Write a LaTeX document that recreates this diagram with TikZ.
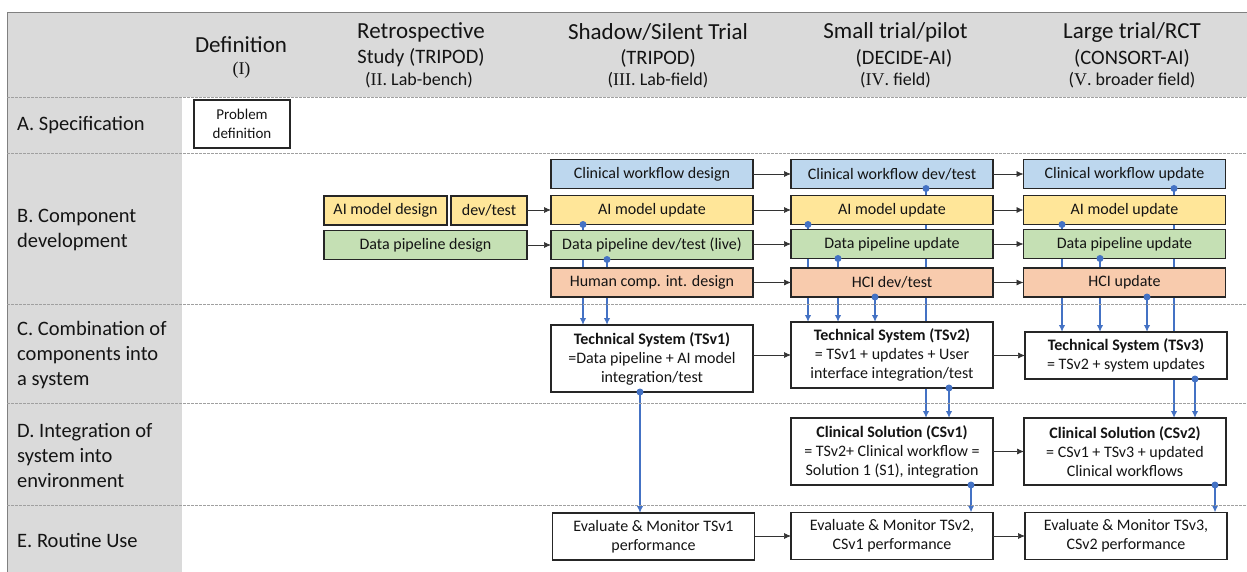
\documentclass[tikz,border=0pt]{standalone}
\usepackage{fontspec}
\setmainfont{Carlito}
\newfontfamily\numfont{Liberation Serif}
\usetikzlibrary{arrows.meta}
\pgfdeclarelayer{background}
\pgfsetlayers{background,main}

\definecolor{cwblue}{RGB}{189,215,238}
\definecolor{aiyel}{RGB}{255,230,153}
\definecolor{dpgreen}{RGB}{197,224,180}
\definecolor{hcorange}{RGB}{248,203,173}
\definecolor{band}{RGB}{218,218,218}
\definecolor{linkblue}{RGB}{68,114,196}
\definecolor{sepgray}{RGB}{160,160,160}

\newcommand{\fs}[2]{\fontsize{#1}{#2}\selectfont}

% blue feed line: dot on the source's lower edge, arrow into the target's top
\newcommand{\bluelink}[3]{%
  \path ([xshift=#2pt]#1.south west) coordinate (ls);
  \begin{pgfonlayer}{background}
    \draw[link] (ls) -- (ls |- #3.north);
  \end{pgfonlayer}
  \fill[linkblue] (ls) circle (3.5pt);
}
% black step-to-step arrow
\newcommand{\steparrow}[2]{\draw[arr] (#1.east |- #2.west) -- (#2.west);}

\begin{document}
\begin{tikzpicture}[x=1pt,y=-1pt,
  box/.style={draw=black!85, fill=white, line width=1.4pt, align=center, inner sep=0pt,
    outer sep=0pt, minimum width=202pt, font=\fs{16}{19}, text=black!92},
  comp/.style={box, minimum height=29pt},
  cwbox/.style={comp, fill=cwblue},
  aibox/.style={comp, fill=aiyel},
  dpbox/.style={comp, fill=dpgreen},
  hcbox/.style={comp, fill=hcorange},
  arr/.style={draw=black!80, line width=0.7pt, -{Latex[length=7pt,width=6pt]}},
  link/.style={draw=linkblue, line width=1.6pt, -{Latex[length=7pt,width=6.5pt]}},
  sep/.style={draw=sepgray, line width=0.6pt, dash pattern=on 2.5pt off 1.5pt},
  rowlab/.style={anchor=west, align=left, inner sep=0pt, font=\fs{20.5}{25}, text=black!92},
  htitle/.style={inner sep=0pt, font=\fs{23}{27}, text=black!92},
  hsub/.style={inner sep=0pt, font=\fs{20.5}{24}, text=black!92},
  hthird/.style={inner sep=0pt, font=\fs{18}{22}, text=black!92},
]
\useasboundingbox (0,0) rectangle (1247,572);

% grey header band and row-label column
\fill[band] (7,12) rectangle (1247,97);
\fill[band] (7,97) rectangle (182,572);
\draw[gray, line width=0.8pt] (7,572) -- (7,12) -- (1247,12);

% row separators
\foreach \yy in {97,153,304,403,505} \draw[sep] (7,\yy) -- (1247,\yy);

% column headings
\node[htitle] (h1a) at (241,45) {Definition};
\node[hthird] (h1b) at (241.5,70) {\numfont (I)};
\node[htitle] (h2a) at (421,32) {Retrospective};
\node[hsub]   (h2b) at (421,58) {Study (TRIPOD)};
\node[hthird] (h2c) at (419,80) {({\numfont II}. Lab-bench)};
\node[htitle] (h3a) at (658,32) {Shadow/Silent Trial};
\node[hsub]   (h3b) at (658,58) {(TRIPOD)};
\node[hthird] (h3c) at (658,80) {({\numfont III}. Lab-field)};
\node[htitle] (h4a) at (895.5,32) {Small trial/pilot};
\node[hsub]   (h4b) at (904,58) {(DECIDE-AI)};
\node[hthird] (h4c) at (895.5,80) {({\numfont IV}. field)};
\node[htitle] (h5a) at (1132,32) {Large trial/RCT};
\node[hsub]   (h5b) at (1132,58) {(CONSORT-AI)};
\node[hthird] (h5c) at (1132,80) {({\numfont V}. broader field)};

% row headings
\node[rowlab] (ra) at (17,125) {A. Specification};
\node[rowlab] (rb) at (17,230) {B. Component\\development};
\node[rowlab] (rc) at (17,355) {C. Combination of\\components into\\a system};
\node[rowlab] (rd) at (17,455) {D. Integration of\\system into\\environment};
\node[rowlab] (re) at (17,540) {E. Routine Use};

% A. specification
\node[box, minimum width=96pt, minimum height=48pt, font=\fs{15}{19}] (prob) at (242,124) {Problem\\definition};

% B. component development
\node[aibox, minimum width=123pt] (aid) at (385.5,210.5) {AI model design};
\node[aibox, minimum width=76pt]  (adt) at (489,210.5) {dev/test};
\node[dpbox, minimum width=203pt] (dpd) at (425.5,245) {Data pipeline design};

\node[cwbox] (cw3) at (652,174) {Clinical workflow design};
\node[aibox] (am3) at (652,210) {AI model update};
\node[dpbox] (dp3) at (652,245) {Data pipeline dev/test (live)};
\node[hcbox] (hc3) at (652,282.5) {Human comp. int. design};

\node[cwbox] (cw4) at (892,174) {Clinical workflow dev/test};
\node[aibox] (am4) at (892,210) {AI model update};
\node[dpbox] (dp4) at (892,244) {Data pipeline update};
\node[hcbox] (hc4) at (892,282.5) {HCI dev/test};

\node[cwbox] (cw5) at (1124.5,174) {Clinical workflow update};
\node[aibox] (am5) at (1124.5,210) {AI model update};
\node[dpbox] (dp5) at (1124.5,244) {Data pipeline update};
\node[hcbox] (hc5) at (1124.5,282.5) {HCI update};

% C. technical systems
\node[box, minimum height=67pt] (ts1) at (652,358.5)
  {\textbf{Technical System (TSv1)}\\=Data pipeline + AI model\\integration/test};
\node[box, minimum height=66pt] (ts2) at (892,355)
  {\textbf{Technical System (TSv2)}\\= TSv1 + updates + User\\interface integration/test};
\node[box, minimum height=47pt] (ts3) at (1126,355.5)
  {\textbf{Technical System (TSv3)}\\= TSv2 + system updates};

% D. clinical solutions
\node[box, minimum height=67pt] (cs1) at (892,451.5)
  {\textbf{Clinical Solution (CSv1)}\\= TSv2+ Clinical workflow =\\Solution 1 (S1), integration};
\node[box, minimum height=67pt] (cs2) at (1125,451.5)
  {\textbf{Clinical Solution (CSv2)}\\= CSv1 + TSv3 + updated\\Clinical workflows};

% E. routine use
\node[box, minimum height=47pt] (ev1) at (653.5,536.5) {Evaluate \& Monitor TSv1\\performance};
\node[box, minimum height=47pt] (ev2) at (892,536) {Evaluate \& Monitor TSv2,\\CSv1 performance};
\node[box, minimum height=47pt] (ev3) at (1126,536) {Evaluate \& Monitor TSv3,\\CSv2 performance};

% step-to-step arrows
\steparrow{adt}{am3}
\steparrow{dpd}{dp3}
\steparrow{cw3}{cw4}
\steparrow{am3}{am4}
\steparrow{dp3}{dp4}
\steparrow{hc3}{hc4}
\steparrow{cw4}{cw5}
\steparrow{am4}{am5}
\steparrow{dp4}{dp5}
\steparrow{hc4}{hc5}
\steparrow{ts1}{ts2}
\steparrow{ts2}{ts3}
\steparrow{cs1}{cs2}
\steparrow{ev1}{ev2}
\steparrow{ev2}{ev3}

% components feeding systems, systems feeding solutions and use
\bluelink{am3}{32}{ts1}
\bluelink{dp3}{56}{ts1}
\bluelink{ts1}{89}{ev1}

\bluelink{am4}{17}{ts2}
\bluelink{dp4}{47}{ts2}
\bluelink{hc4}{84}{ts2}
\bluelink{cw4}{135}{cs1}
\bluelink{ts2}{158}{cs1}
\bluelink{cs1}{180}{ev2}

\bluelink{am5}{38.5}{ts3}
\bluelink{dp5}{76.5}{ts3}
\bluelink{hc5}{123.5}{ts3}
\bluelink{cw5}{150.5}{cs2}
\bluelink{ts3}{170}{cs2}
\bluelink{cs2}{191}{ev3}
\end{tikzpicture}
\end{document}
